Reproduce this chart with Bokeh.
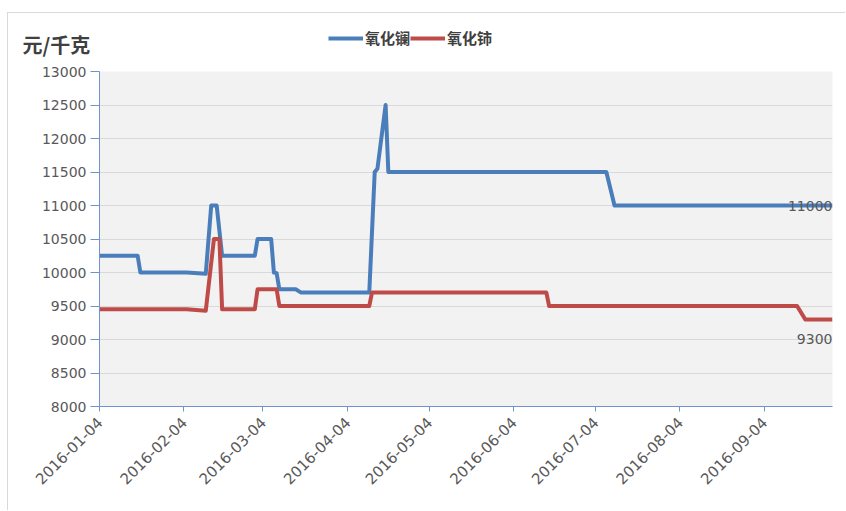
import pandas as pd
from math import pi
from bokeh.plotting import figure
from bokeh.models import (FixedTicker, DatetimeTickFormatter, Range1d, Label,
                          Legend, LegendItem, ColumnDataSource)
from bokeh.embed import file_html
from bokeh.resources import INLINE

# ---- data ----
series_names = ["氧化镧", "氧化铈"]
y_title = "元/千克"

la_dates = ["2016-01-04", "2016-01-18", "2016-01-19", "2016-02-05", "2016-02-12",
            "2016-02-14", "2016-02-16", "2016-02-18", "2016-03-01", "2016-03-02",
            "2016-03-07", "2016-03-08", "2016-03-09", "2016-03-10", "2016-03-16",
            "2016-03-18", "2016-04-12", "2016-04-14", "2016-04-15", "2016-04-18",
            "2016-04-19", "2016-07-08", "2016-07-11", "2016-09-29"]
la_values = [10250, 10250, 10000, 10000, 9980,
             11000, 11000, 10250, 10250, 10500,
             10500, 10000, 9990, 9750, 9750,
             9700, 9700, 11500, 11550, 12500,
             11500, 11500, 11000, 11000]

ce_dates = ["2016-01-04", "2016-02-05", "2016-02-12", "2016-02-15", "2016-02-17",
            "2016-02-18", "2016-03-01", "2016-03-02", "2016-03-09", "2016-03-10",
            "2016-04-12", "2016-04-13", "2016-06-16", "2016-06-17", "2016-09-16",
            "2016-09-19", "2016-09-29"]
ce_values = [9450, 9450, 9430, 10500, 10500,
             9450, 9450, 9750, 9750, 9500,
             9500, 9700, 9700, 9500, 9500,
             9300, 9300]

x_tick_dates = ["2016-01-04", "2016-02-04", "2016-03-04", "2016-04-04", "2016-05-04",
                "2016-06-04", "2016-07-04", "2016-08-04", "2016-09-04"]
y_ticks = [8000, 8500, 9000, 9500, 10000, 10500, 11000, 11500, 12000, 12500, 13000]

# ---- styles ----
BLUE = "#4a7ebb"
RED = "#be4b48"
AXIS = "#6f93cc"
TXT = "#595959"
NUM_FONT = "DejaVu Sans"
CJK_FONT = "Noto Sans CJK SC"
W = 838
HEAD_H = 50
MAIN_H = 448
BORDER = "1px solid #d9d9d9"


def ms(d):
    return pd.Timestamp(d).value // 10**6


la_x = pd.to_datetime(la_dates)
ce_x = pd.to_datetime(ce_dates)
src_la = ColumnDataSource(dict(x=la_x, y=la_values))
src_ce = ColumnDataSource(dict(x=ce_x, y=ce_values))

# ---------- main chart ----------
p = figure(width=W, height=MAIN_H, x_axis_type="datetime",
           output_backend="svg", toolbar_location=None,
           min_border_left=91, min_border_right=14, min_border_top=9, min_border_bottom=104,
           background_fill_color="#f2f2f2", border_fill_color="white",
           styles={"margin-left": "7px", "border-left": BORDER})
p.outline_line_color = None
p.x_range = Range1d(start=la_x[0], end=la_x[-1])
p.y_range = Range1d(start=y_ticks[0], end=y_ticks[-1])

p.xgrid.visible = False
p.ygrid.grid_line_color = "#d9d9d9"
p.ygrid.grid_line_width = 1

for ax in (p.xaxis[0], p.yaxis[0]):
    ax.axis_line_color = AXIS
    ax.axis_line_width = 1
    ax.major_tick_line_color = AXIS
    ax.major_tick_in = 0
    ax.minor_tick_line_color = None
    ax.major_label_text_color = TXT
    ax.major_label_text_font = NUM_FONT

p.yaxis.ticker = FixedTicker(ticks=y_ticks)
p.yaxis.major_label_text_font_size = "14px"
p.yaxis.major_tick_out = 9
p.yaxis.major_label_standoff = 4

p.xaxis.ticker = FixedTicker(ticks=[ms(d) for d in x_tick_dates])
fmt = "%Y-%m-%d"
p.xaxis.formatter = DatetimeTickFormatter(days=fmt, months=fmt, years=fmt, hours=fmt,
                                          minutes=fmt, seconds=fmt, milliseconds=fmt,
                                          microseconds=fmt)
p.xaxis.major_label_orientation = pi / 4
p.xaxis.major_label_text_font_size = "15px"
p.xaxis.major_tick_out = 5
p.xaxis.major_label_standoff = 8

p.line("x", "y", source=src_la, line_color=BLUE, line_width=4, line_join="round")
p.line("x", "y", source=src_ce, line_color=RED, line_width=4, line_join="round")

p.add_layout(Label(x=ms(la_dates[-1]), y=la_values[-1], x_offset=0, y_offset=0,
                   text=str(la_values[-1]), text_font=NUM_FONT, text_font_size="14px",
                   text_color=TXT, text_baseline="middle", text_align="right"))
p.add_layout(Label(x=ms(ce_dates[-1]), y=ce_values[-1], x_offset=0, y_offset=-20,
                   text=str(ce_values[-1]), text_font=NUM_FONT, text_font_size="14px",
                   text_color=TXT, text_baseline="middle", text_align="right"))

# ---------- header (unit title + legend) ----------
h = figure(width=W, height=HEAD_H, output_backend="svg", toolbar_location=None,
           x_axis_location=None, y_axis_location=None,
           min_border_left=0, min_border_right=0, min_border_top=0, min_border_bottom=0,
           x_range=Range1d(0, W), y_range=Range1d(0, HEAD_H),
           styles={"margin-left": "7px", "margin-top": "12px",
                   "border-top": BORDER, "border-left": BORDER})
h.outline_line_color = None
h.grid.visible = False
h.background_fill_color = "white"
h.border_fill_color = "white"

# same series, drawn in the header only to key the legend (they fall outside its ranges)
leg_la = h.line("x", "y", source=src_la, line_color=BLUE, line_width=4)
leg_ce = h.line("x", "y", source=src_ce, line_color=RED, line_width=4)
legend = Legend(items=[LegendItem(label=series_names[0], renderers=[leg_la]),
                       LegendItem(label=series_names[1], renderers=[leg_ce])],
                location=(320, 15), orientation="horizontal",
                border_line_color=None, background_fill_alpha=0,
                label_text_font=CJK_FONT, label_text_font_style="bold",
                label_text_font_size="15px", label_text_color="#404040",
                glyph_width=35, glyph_height=20, label_height=20, label_standoff=2,
                spacing=0, padding=0, margin=0)
h.add_layout(legend)

h.add_layout(Label(x=14, y=19, text=y_title, text_font=CJK_FONT,
                   text_font_style="bold", text_font_size="20px",
                   text_color="#404040", text_baseline="middle", text_align="left"))

open("out.html", "w").write(file_html([h, p], INLINE))
